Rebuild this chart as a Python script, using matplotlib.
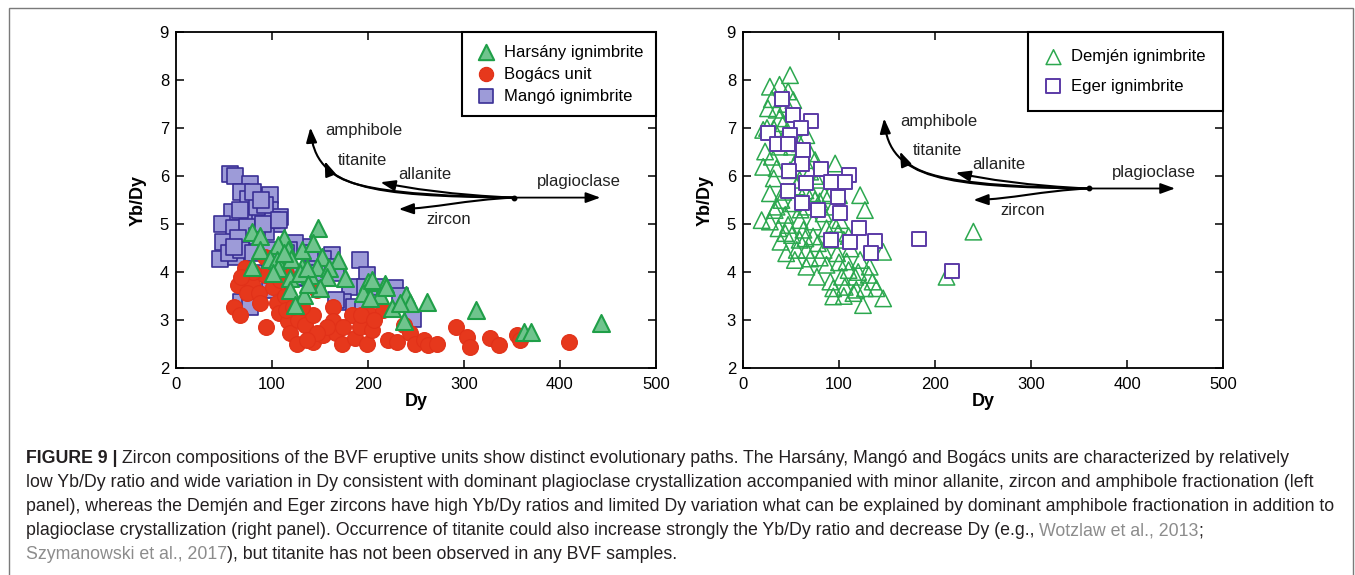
import matplotlib
matplotlib.use("Agg")
import matplotlib.pyplot as plt
import numpy as np
from matplotlib.path import Path
from matplotlib.patches import FancyArrowPatch, Rectangle
from matplotlib.ticker import NullLocator

plt.rcParams['font.family'] = ['Liberation Sans', 'DejaVu Sans']

# --- Données ---
# panneau gauche
mango_dy = [56, 61, 77, 68, 87, 98, 75, 58, 77, 87, 98, 105, 48, 60, 74, 94, 49, 65, 84, 46,
            63, 55, 68, 80, 60, 108, 100, 91, 67, 84, 93, 80, 89, 107, 133, 124, 118, 162, 153, 143,
            157, 136, 147, 167, 181, 192, 199, 197, 174, 185, 195, 167, 209, 228, 233, 247, 87, 98, 105, 98,
            68, 77, 126, 108, 115, 98, 119, 140, 147]
mango_ratio = [6.04, 5.99, 5.83, 5.67, 5.57, 5.60, 5.53, 5.26, 5.15, 5.22, 5.29, 5.01, 5.01, 4.91, 4.94, 4.84, 4.63, 4.70, 4.74, 4.28,
               4.32, 4.39, 4.46, 4.39, 4.53, 5.15, 5.08, 5.01, 5.29, 5.36, 5.40, 5.67, 5.50, 5.08, 4.53, 4.60, 4.46, 4.35, 4.28, 4.15,
               4.11, 3.87, 3.76, 3.97, 3.69, 4.25, 3.94, 3.69, 3.38, 3.28, 3.21, 3.42, 3.69, 3.66, 3.49, 3.03, 3.97, 4.11, 3.76, 3.63,
               3.38, 3.28, 3.90, 4.18, 4.39, 4.46, 3.97, 4.39, 3.97]

bogacs_dy = [93, 72, 65, 79, 93, 73.5, 86, 87.5, 60, 67, 94, 101, 105, 107, 113.5, 117, 119, 126, 127, 134,
             143, 143, 153, 164, 164, 167, 173, 183, 186, 192, 199, 202, 204, 216, 221, 230, 237, 244, 249, 258,
             263, 272, 292, 303, 306, 327, 336, 355, 358, 409, 108, 147, 131, 115, 122, 80.5, 68, 115, 108, 157,
             174, 147, 136, 193, 206]
bogacs_ratio = [4.32, 4.08, 3.73, 3.76, 3.94, 3.56, 3.56, 3.35, 3.28, 3.10, 2.86, 3.69, 3.35, 3.14, 3.49, 2.97, 2.72, 2.51, 3.00, 2.90,
                3.10, 2.55, 2.69, 3.28, 2.97, 2.72, 2.51, 3.10, 2.62, 2.86, 2.51, 3.10, 2.79, 3.21, 2.58, 2.55, 2.90, 2.72, 2.51, 2.58,
                2.48, 2.51, 2.86, 2.65, 2.44, 2.62, 2.48, 2.69, 2.58, 2.55, 4.15, 3.63, 3.28, 3.21, 3.28, 4.01, 3.90, 3.97, 3.83, 2.86,
                2.86, 2.72, 2.58, 3.10, 3.00]

harsany_dy = [148, 79, 87.5, 87.5, 112, 106, 117, 131, 143, 98, 105, 120, 152, 169, 79, 106, 131, 147, 159, 101,
              119, 140, 157, 176, 200, 218, 119, 133, 150, 195, 212, 202, 240, 244, 261, 225, 124, 237, 313, 443,
              362, 370, 112, 129, 136, 138, 219, 204, 233]
harsany_ratio = [4.91, 4.84, 4.74, 4.46, 4.70, 4.56, 4.46, 4.46, 4.60, 4.28, 4.25, 4.28, 4.32, 4.25, 4.11, 4.08, 4.11, 4.11, 4.08, 3.97,
                 3.87, 3.94, 3.90, 3.87, 3.80, 3.76, 3.63, 3.52, 3.66, 3.56, 3.52, 3.45, 3.52, 3.35, 3.38, 3.24, 3.31, 2.97, 3.21, 2.93,
                 2.76, 2.76, 4.39, 3.97, 4.08, 3.76, 3.69, 3.83, 3.35]

# panneau droit
demjen_dy = [49, 28, 38, 47, 52.4, 26, 35, 38, 21, 32, 42, 66, 23, 30, 38, 21, 35, 75, 70, 96,
             32, 28, 42, 56, 122, 127, 33, 44, 28, 37, 47, 59, 73, 87, 39, 51, 59, 73, 99, 45,
             56, 70, 84, 98, 112, 146, 54, 66, 87, 108, 122, 77, 91, 103, 117, 131, 94, 106, 118, 127,
             139, 94, 115, 146, 125, 240, 212, 19.4, 66, 80, 72, 52, 59, 49, 77, 91, 84, 101, 105, 63,
             78, 51, 59, 56, 44, 66, 91, 110, 132, 70, 35, 75, 94, 30, 45, 25, 60, 45, 80, 65,
             85, 100, 40, 60, 95, 110, 80, 65, 100, 120, 135, 105]
demjen_ratio = [8.10, 7.86, 7.90, 7.76, 7.58, 7.41, 7.38, 7.20, 6.96, 6.99, 7.10, 6.85, 6.51, 6.40, 6.61, 6.19, 6.16, 6.33, 6.09, 6.26,
                5.95, 5.64, 5.67, 5.78, 5.60, 5.29, 5.29, 5.19, 5.05, 4.91, 4.98, 5.08, 5.05, 4.91, 4.63, 4.77, 4.67, 4.74, 4.81, 4.39,
                4.46, 4.28, 4.46, 4.39, 4.49, 4.42, 4.25, 4.11, 4.15, 4.22, 4.25, 3.90, 3.80, 3.90, 3.90, 3.94, 3.66, 3.69, 3.63, 3.66,
                3.66, 3.49, 3.56, 3.45, 3.31, 4.84, 3.90, 5.08, 5.36, 5.47, 5.64, 5.43, 5.92, 6.12, 5.92, 5.64, 5.22, 5.08, 4.67, 4.88,
                4.60, 6.61, 6.68, 6.33, 4.81, 4.46, 4.67, 4.04, 4.11, 6.47, 5.36, 5.50, 5.36, 7.60, 7.50, 7.00, 6.50, 6.90, 6.00, 5.70,
                5.60, 5.60, 5.50, 5.30, 5.00, 4.75, 4.30, 4.70, 4.20, 4.00, 3.80, 3.50]

eger_dy = [41, 52.4, 71, 60, 26, 49, 35, 47, 62, 61, 81, 48, 110, 92, 106, 66, 47, 99, 61, 78.5,
           101, 121, 92, 111.5, 137, 133, 183, 218]
eger_ratio = [7.60, 7.27, 7.15, 6.99, 6.89, 6.85, 6.67, 6.67, 6.54, 6.25, 6.15, 6.10, 6.02, 5.88, 5.87, 5.86, 5.69, 5.56, 5.44, 5.29,
              5.22, 4.91, 4.67, 4.62, 4.65, 4.39, 4.68, 4.02]

# vecteurs de fractionnement (origine, têtes, points de contrôle des courbes)
minerals = ['amphibole', 'titanite', 'allanite', 'zircon']
left_origin = (352, 5.55)
left_plag = (442, 5.55)
left_heads = [(140, 7.01), (155, 6.31), (213, 5.87), (232, 5.31)]
left_c1 = [(200, 5.58), (215, 5.60), (290, 5.60), (300, 5.50)]
left_c2 = [(145, 5.75), (165, 5.80), (240, 5.75), (270, 5.33)]
left_labels = [(155, 6.94), (169, 6.33), (232, 6.04), (261, 5.10)]
left_plag_label = (376, 5.88)

right_origin = (360, 5.74)
right_plag = (450, 5.74)
right_heads = [(147, 7.20), (163.5, 6.51), (221.5, 6.07), (240, 5.50)]
right_c1 = [(210, 5.77), (225, 5.79), (300, 5.79), (310, 5.69)]
right_c2 = [(152, 5.94), (175, 5.99), (250, 5.94), (280, 5.52)]
right_labels = [(163.5, 7.13), (177, 6.53), (239, 6.23), (268, 5.29)]
right_plag_label = (384, 6.08)

W, H = 1355, 575
fig = plt.figure(figsize=(W / 100, H / 100), dpi=100)

# cadre gris de la figure
fig.patches.append(Rectangle((9 / W, -0.02), (1353 - 9) / W, 1 - 8 / H + 0.02,
                             transform=fig.transFigure, fill=False, edgecolor='#7a7a7a', lw=1.0))

ax1 = fig.add_axes([176 / W, 1 - 368 / H, 480 / W, 336 / H])
ax2 = fig.add_axes([743 / W, 1 - 368 / H, 480 / W, 336 / H])


def setup(ax):
    ax.set_xlim(0, 500)
    ax.set_ylim(2, 9)
    ax.set_xticks(range(0, 501, 100))
    ax.set_yticks(range(2, 10))
    ax.set_yticks([5], minor=True)
    ax.xaxis.set_minor_locator(NullLocator())
    ax.tick_params(which='major', direction='in', length=5.8, width=1.1, top=True, right=True,
                   labelsize=12, pad=5)
    ax.tick_params(axis='x', which='major', pad=6.5)
    ax.tick_params(which='minor', direction='in', length=11.5, width=1.1, left=True, right=True)
    for s in ax.spines.values():
        s.set_linewidth(1.3)
    ax.set_xlabel('Dy', fontweight='bold', fontsize=13)
    ax.set_ylabel('Yb/Dy', fontweight='bold', fontsize=13)
    ax.xaxis.set_label_coords(0.5, -0.075)
    ax.yaxis.set_label_coords(-0.062, 0.5)


def vecteurs(ax, origin, plag, heads, c1, c2, labels, plag_label):
    style = '-|>,head_length=0.55,head_width=0.2'
    for h, a, b in zip(heads, c1, c2):
        path = Path([origin, a, b, h], [Path.MOVETO, Path.CURVE4, Path.CURVE4, Path.CURVE4])
        ax.add_patch(FancyArrowPatch(path=path, arrowstyle=style, mutation_scale=16, lw=1.5,
                                     color='black', transform=ax.transData, zorder=5))
    ax.add_patch(FancyArrowPatch(origin, plag, arrowstyle=style, mutation_scale=16, lw=1.3,
                                 color='black', shrinkA=0, shrinkB=0, zorder=5))
    ax.plot(*origin, 'o', ms=3.2, color='black', zorder=6)
    for name, (x, y) in zip(minerals, labels):
        ax.text(x, y, name, fontsize=12, ha='left', va='center', color='#222222')
    ax.text(*plag_label, 'plagioclase', fontsize=12, ha='left', va='center', color='#222222')


# --- panneau gauche ---
setup(ax1)
sq = ax1.scatter(mango_dy, mango_ratio, marker='s', s=118, facecolor='#9d9bd8', edgecolor='#3a2f95',
                 lw=1.2, zorder=2, label='Mangó ignimbrite')
ci = ax1.scatter(bogacs_dy, bogacs_ratio, marker='o', s=130, facecolor='#e6381c', edgecolor='#e13118',
                 lw=0.8, zorder=3, label='Bogács unit')
tr = ax1.scatter(harsany_dy, harsany_ratio, marker='^', s=150, facecolor='#6fc48d', edgecolor='#1f9f48',
                 lw=1.5, zorder=4, label='Harsány ignimbrite')
vecteurs(ax1, left_origin, left_plag, left_heads, left_c1, left_c2, left_labels, left_plag_label)
leg1 = ax1.legend(handles=[tr, ci, sq], loc='upper right', bbox_to_anchor=(1, 1), borderaxespad=0,
                  fontsize=12, frameon=True, fancybox=False, framealpha=1, edgecolor='black',
                  borderpad=0.75, handlelength=1.4, handletextpad=0.4, labelspacing=0.42,
                  markerscale=0.9)
leg1.get_frame().set_linewidth(1.5)
leg1.set_zorder(10)

# --- panneau droit ---
setup(ax2)
tr2 = ax2.scatter(demjen_dy, demjen_ratio, marker='^', s=140, facecolor='none', edgecolor='#2ca84f',
                  lw=1.1, zorder=2, label='Demjén ignimbrite')
sq2 = ax2.scatter(eger_dy, eger_ratio, marker='s', s=110, facecolor='white', edgecolor='#5b3aa6',
                  lw=1.4, zorder=3, label='Eger ignimbrite')
vecteurs(ax2, right_origin, right_plag, right_heads, right_c1, right_c2, right_labels, right_plag_label)
leg2 = ax2.legend(handles=[tr2, sq2], loc='upper right', bbox_to_anchor=(1, 1), borderaxespad=0,
                  fontsize=12, frameon=True, fancybox=False, framealpha=1, edgecolor='black',
                  borderpad=1.05, handlelength=1.0, handletextpad=0.55, labelspacing=0.85,
                  markerscale=0.9)
leg2.get_frame().set_linewidth(1.5)
leg2.set_zorder(10)

# --- légende de la figure ---
cap_fs = 12.8
black = '#231f20'
grey = '#8c8c8c'
renderer = fig.canvas.get_renderer()


def largeur(s, **kw):
    t = fig.text(0, 0, s, fontsize=cap_fs, **kw)
    w = t.get_window_extent(renderer).width
    t.remove()
    return w


space_w = largeur('a a') - largeur('aa')


def ligne(y, segments, x=26):
    for s, color, weight in segments:
        x += (len(s) - len(s.lstrip(' '))) * space_w
        t = fig.text(x / W, 1 - y / H, s.strip(' '), fontsize=cap_fs, color=color,
                     fontweight=weight, ha='left', va='baseline')
        x += t.get_window_extent(renderer).width
        x += (len(s) - len(s.rstrip(' '))) * space_w


ligne(463, [('FIGURE 9 |', black, 'bold'),
            (' Zircon compositions of the BVF eruptive units show distinct evolutionary paths. The Harsány, '
             'Mangó and Bogács units are characterized by relatively', black, 'normal')])
ligne(487, [('low Yb/Dy ratio and wide variation in Dy consistent with dominant plagioclase crystallization '
             'accompanied with minor allanite, zircon and amphibole fractionation (left', black, 'normal')])
ligne(511, [('panel), whereas the Demjén and Eger zircons have high Yb/Dy ratios and limited Dy variation what '
             'can be explained by dominant amphibole fractionation in addition to', black, 'normal')])
ligne(535, [('plagioclase crystallization (right panel). Occurrence of titanite could also increase strongly '
             'the Yb/Dy ratio and decrease Dy (e.g., ', black, 'normal'),
            ('Wotzlaw et al., 2013', grey, 'normal'), (';', black, 'normal')])
ligne(559, [('Szymanowski et al., 2017', grey, 'normal'),
            ('), but titanite has not been observed in any BVF samples.', black, 'normal')])

fig.savefig('out.png', dpi=100)
